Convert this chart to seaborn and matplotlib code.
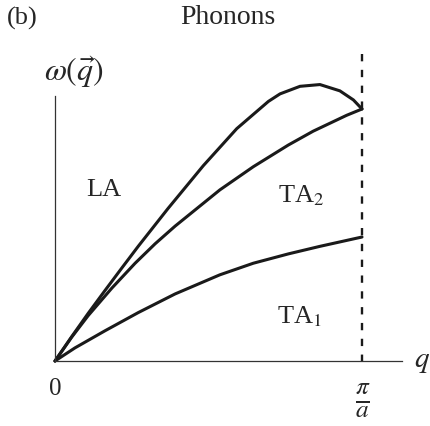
import numpy as np
import pandas as pd
import matplotlib
matplotlib.use("Agg")
import matplotlib.pyplot as plt
import seaborn as sns

# q in units of pi/a, omega scaled so the zone-edge LA value is 1
q_la = [0, 0.054, 0.108, 0.163, 0.217, 0.271, 0.368, 0.483, 0.592,
        0.695, 0.733, 0.798, 0.863, 0.928, 0.972, 1.0]
w_la = [0, 0.096, 0.189, 0.280, 0.368, 0.455, 0.605, 0.775, 0.922,
        1.030, 1.060, 1.090, 1.097, 1.072, 1.036, 1.0]
q_ta2 = [0, 0.054, 0.108, 0.185, 0.261, 0.326, 0.391, 0.537, 0.646,
         0.760, 0.841, 0.950, 1.0]
w_ta2 = [0, 0.094, 0.180, 0.289, 0.388, 0.465, 0.535, 0.679, 0.771,
         0.857, 0.912, 0.975, 1.0]
q_ta1 = [0, 0.065, 0.163, 0.271, 0.391, 0.537, 0.646, 0.760, 0.863, 1.0]
w_ta1 = [0, 0.052, 0.120, 0.192, 0.266, 0.342, 0.388, 0.425, 0.455, 0.492]

zone_edge = 1.0
dash_top = 1.22

df = pd.concat([
    pd.DataFrame({"q": q_la, "w": w_la, "branch": "LA"}),
    pd.DataFrame({"q": q_ta2, "w": w_ta2, "branch": "TA2"}),
    pd.DataFrame({"q": q_ta1, "w": w_ta1, "branch": "TA1"}),
])

sns.set_theme(style="white")
plt.rcParams["font.family"] = ["Liberation Serif", "DejaVu Serif"]
plt.rcParams["mathtext.fontset"] = "stix"

fig = plt.figure(figsize=(4.3, 4.26), dpi=100)
ax = fig.add_axes([0, 0, 1, 1])

sns.lineplot(data=df, x="q", y="w", hue="branch", units="branch",
             estimator=None, sort=False, legend=False,
             palette=["#1a1a1a"] * 3, linewidth=2.2, ax=ax)
for ln in ax.lines:
    ln.set_solid_joinstyle("round")

ax.vlines(zone_edge, dash_top, 0, colors="#1a1a1a", linewidth=1.7,
          linestyles=(0, (3.1, 3.6)))

# axes placed so the origin sits where the sketch has it
ax.set_xlim(-55 / 307, 375 / 307)
ax.set_ylim(-65 / 252, 361 / 252)
for s in ["top", "right"]:
    ax.spines[s].set_visible(False)
ax.spines["left"].set_position(("data", 0))
ax.spines["bottom"].set_position(("data", 0))
ax.spines["left"].set_bounds(0, 1.05)
ax.spines["bottom"].set_bounds(0, 1.13)
for s in ["left", "bottom"]:
    ax.spines[s].set_color("#333333")
    ax.spines[s].set_linewidth(0.9)
ax.set_xticks([])
ax.set_yticks([])
ax.set_xlabel("")
ax.set_ylabel("")


def ftext(px, py, s, **kw):
    fig.text(px / 430, 1 - py / 426, s, **kw)


ftext(7, 18, "(b)", fontsize=19, ha="left", va="center")
ftext(228, 17, "Phonons", fontsize=20, ha="center", va="center")
ftext(44, 72, r"$\omega(\vec{q})$", fontsize=23, ha="left", va="center")
ftext(104, 190, "LA", fontsize=19, ha="center", va="center")
ftext(301, 196, r"TA$_2$", fontsize=19, ha="center", va="center")
ftext(299, 317, r"TA$_1$", fontsize=19, ha="center", va="center")
ftext(55, 389, "0", fontsize=18, ha="center", va="center")
ftext(422, 362, r"$q$", fontsize=21, ha="center", va="center")
ftext(363, 401, r"$\frac{\pi}{a}$", fontsize=26, ha="center", va="center")

fig.savefig("out.png", dpi=100)
